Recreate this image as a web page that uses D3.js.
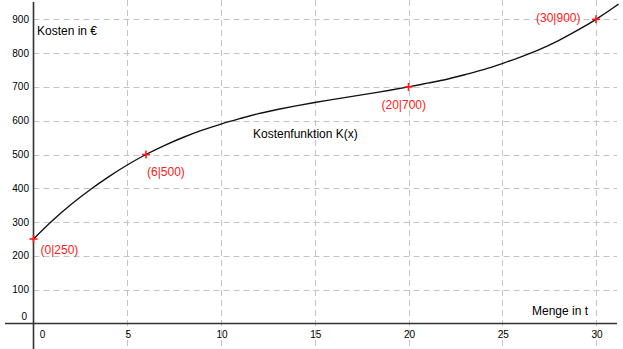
<!DOCTYPE html>
<html><head><meta charset="utf-8">
<script src="https://cdn.jsdelivr.net/npm/d3@7"></script>
<style>
html,body{margin:0;padding:0;background:#fff;}
svg{display:block;font-family:"Liberation Sans",Arial,sans-serif;}
</style></head>
<body><svg id="c" width="623" height="349"></svg>
<script>
// Data
const xTicks = [0, 5, 10, 15, 20, 25, 30];
const yTicks = [0, 100, 200, 300, 400, 500, 600, 700, 800, 900];
const curveX = [0, 1, 2, 3, 4, 5, 6, 7, 8, 9, 10, 11, 12, 13, 14, 15, 16, 17, 18, 19, 20, 21, 22, 23, 24, 25, 26, 27, 28, 29, 30, 31, 31.2];
const curveY = [250, 304, 352, 395, 434, 469, 500, 527, 551, 572, 590, 606, 621, 633, 644, 654, 663, 672, 681, 690, 700, 711, 722, 736, 751, 769, 789, 811, 837, 867, 900, 937, 945];
const pointX = [0, 6, 20, 30];
const pointY = [250, 500, 700, 900];
const pointLabels = ["(0|250)", "(6|500)", "(20|700)", "(30|900)"];
const yTitle = "Kosten in €";
const xTitle = "Menge in t";
const curveTitle = "Kostenfunktion K(x)";

const svg = d3.select("#c");
const x = d3.scaleLinear().domain([0, 30]).range([33.5, 596]);
const y = d3.scaleLinear().domain([0, 900]).range([323.5, 19.3]);

// grid
const grid = svg.append("g").attr("stroke", "#c4c4c4").attr("stroke-width", 1).attr("stroke-dasharray", "6,4");
grid.selectAll("line.h").data(yTicks.filter(d => d > 0)).join("line")
  .attr("x1", x(0)).attr("x2", 617)
  .attr("y1", d => Math.round(y(d)) + 0.5).attr("y2", d => Math.round(y(d)) + 0.5);
grid.selectAll("line.v").data(xTicks.filter(d => d > 0)).join("line")
  .attr("y1", 0).attr("y2", 349)
  .attr("x1", d => Math.round(x(d)) + 0.5).attr("x2", d => Math.round(x(d)) + 0.5);

// axes lines
svg.append("line").attr("x1", 5).attr("x2", 617).attr("y1", y(0)).attr("y2", y(0))
  .attr("stroke", "#333").attr("stroke-width", 1.6);
svg.append("line").attr("x1", x(0)).attr("x2", x(0)).attr("y1", 2).attr("y2", 349)
  .attr("stroke", "#333").attr("stroke-width", 1.6);

// tick labels
svg.append("g").selectAll("text").data(yTicks).join("text")
  .attr("x", d => d === 0 ? 27 : 29)
  .attr("y", d => d === 0 ? y(0) - 7 : y(d))
  .attr("dy", "0.35em").attr("text-anchor", "end")
  .attr("font-size", 10).attr("fill", "#000").text(d => d);
svg.append("g").selectAll("text").data(xTicks).join("text")
  .attr("x", d => d === 0 ? x(0) + 9 : x(d) + 1)
  .attr("y", 334).attr("dy", "0.35em").attr("text-anchor", "middle")
  .attr("font-size", 10).attr("fill", "#000").text(d => d);

// curve
const pts = curveX.map((v, i) => [v, curveY[i]]);
svg.append("path").datum(pts)
  .attr("d", d3.line().x(d => x(d[0])).y(d => y(d[1])).curve(d3.curveMonotoneX))
  .attr("fill", "none").attr("stroke", "#111").attr("stroke-width", 1.4);

// points
const P = pointX.map((v, i) => ({x: v, y: pointY[i], t: pointLabels[i]}));
const cross = svg.append("g").attr("stroke", "#ff1a1a").attr("stroke-width", 1.6);
P.forEach(p => {
  const cx = x(p.x), cy = y(p.y);
  cross.append("line").attr("x1", cx - 4).attr("x2", cx + 4).attr("y1", cy).attr("y2", cy);
  cross.append("line").attr("x1", cx).attr("x2", cx).attr("y1", cy - 4).attr("y2", cy + 4);
});
const labOff = [[7, 11, "start"], [1, 17, "start"], [-27, 18, "start"], [-60, -2, "start"]];
svg.append("g").selectAll("text").data(P).join("text")
  .attr("x", (d, i) => x(d.x) + labOff[i][0])
  .attr("y", (d, i) => y(d.y) + labOff[i][1])
  .attr("dy", "0.35em").attr("text-anchor", "start")
  .attr("font-size", 12).attr("fill", "#ff2020").text(d => d.t);

// titles
svg.append("text").attr("x", 37).attr("y", 31).attr("dy", "0.35em")
  .attr("font-size", 12).attr("fill", "#000").text(yTitle);
svg.append("text").attr("x", 532).attr("y", 311).attr("dy", "0.35em")
  .attr("font-size", 12).attr("fill", "#000").text(xTitle);
svg.append("text").attr("x", 253).attr("y", 134).attr("dy", "0.35em")
  .attr("font-size", 12).attr("fill", "#000").text(curveTitle);
</script></body></html>
